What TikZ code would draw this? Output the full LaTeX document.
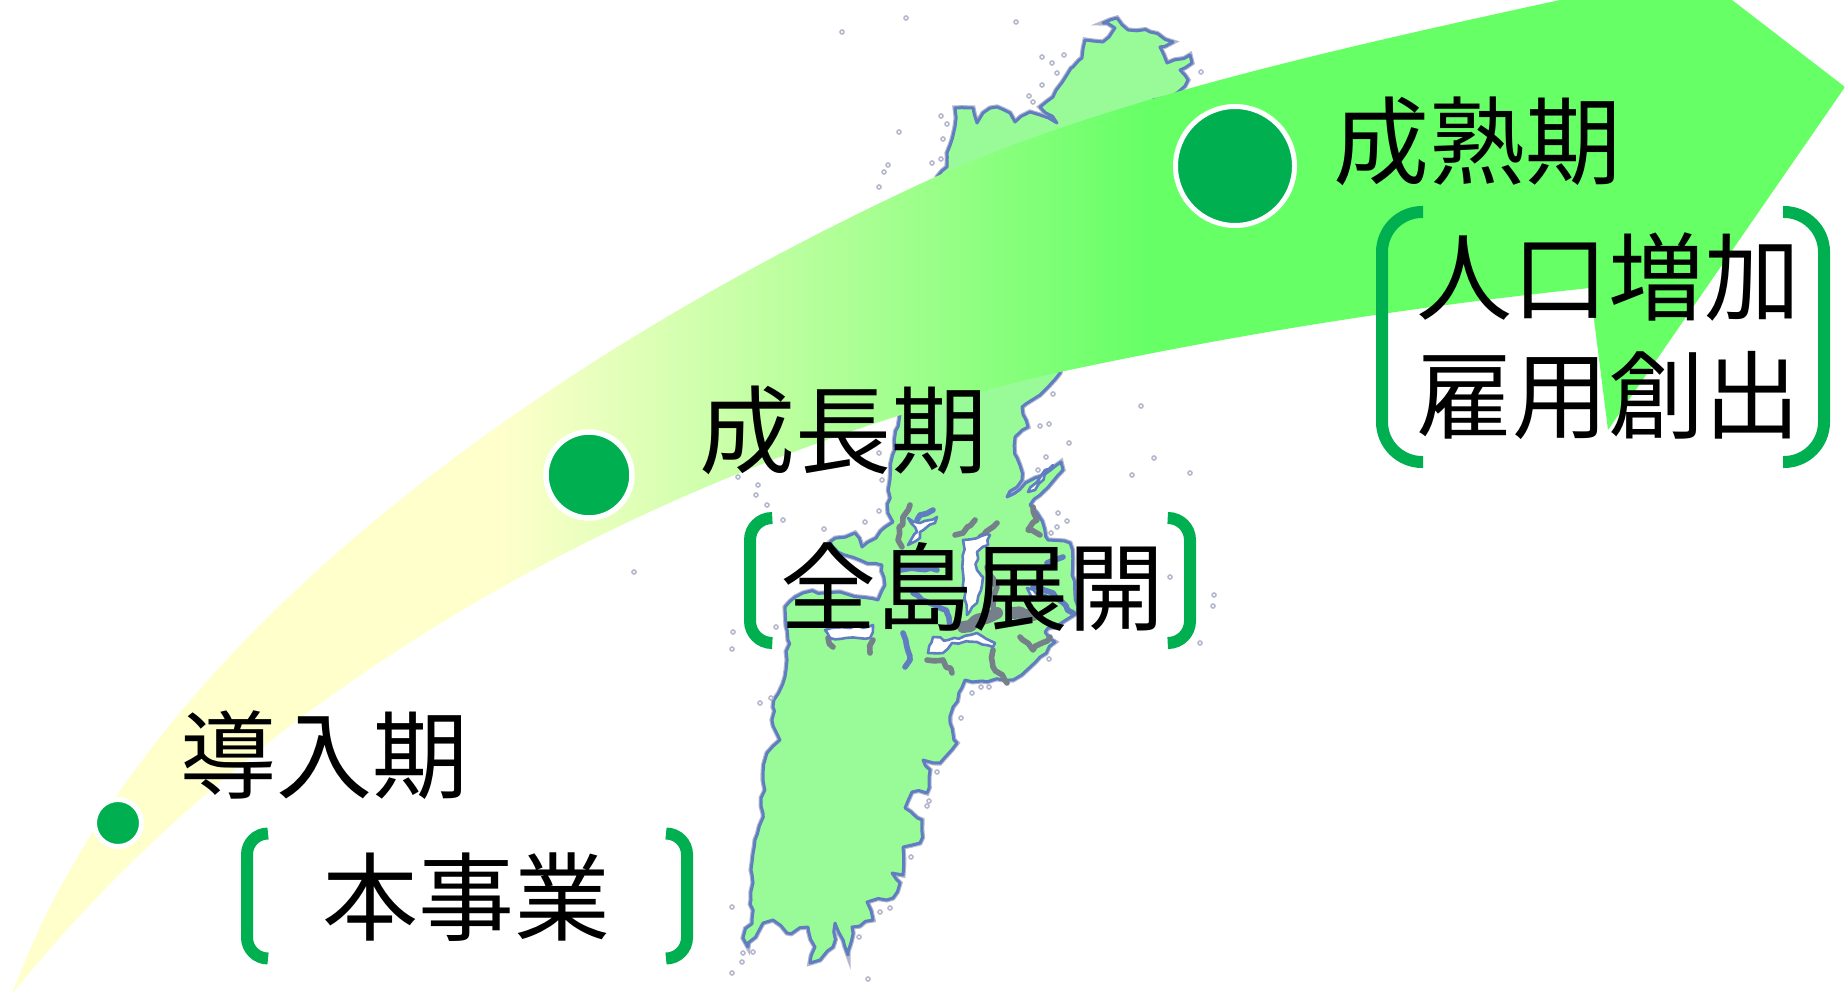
\documentclass[tikz,border=0pt]{standalone}
\usepackage{fontspec}
\setmainfont{Noto Sans CJK JP}
\usetikzlibrary{decorations.pathmorphing}
\definecolor{bandstart}{HTML}{FFFFCC}
\definecolor{bandend}{HTML}{66FF66}
\definecolor{markgreen}{HTML}{00B050}
\definecolor{landgreen}{HTML}{98FB98}
\definecolor{coastblue}{HTML}{5F7DC0}
\definecolor{coastdark}{HTML}{75808A}
\definecolor{islegray}{HTML}{B4B8CC}
\pgfdeclarehorizontalshading{bandfade}{100bp}{color(0bp)=(bandstart); color(38.3bp)=(bandstart); color(56bp)=(bandend); color(100bp)=(bandend)}
\begin{document}
\begin{tikzpicture}[
            x=0.5pt, y=-0.5pt,
            land/.style={draw=coastblue, fill=landgreen, line width=1.5pt, line join=round, preaction={draw=islegray, line width=2.6pt}, decorate, decoration={random steps, segment length=4pt, amplitude=1pt}},
            inlet/.style={draw=coastblue, fill=white, line width=1.3pt, line join=round, decorate, decoration={random steps, segment length=3pt, amplitude=0.8pt}},
            finger/.style={draw=coastdark, line width=2.8pt, line cap=round, line join=round, decorate, decoration={random steps, segment length=3pt, amplitude=1pt}},
            fingerb/.style={finger, draw=coastblue},
            dot/.style={circle, fill=markgreen, draw=white, inner sep=0pt},
            phase/.style={font=\fontsize{48}{59}\selectfont, text=black, align=center, inner sep=0pt},
            bracket/.style={draw=markgreen, line width=6pt}
        ]
            \useasboundingbox (0,0) rectangle (1845,994);
            \pgfmathsetseed{7}

            % island
            \path[land] (1103,23) -- (1117,18) -- (1128,30) -- (1150,32) -- (1173,42) -- (1160,47) -- (1167,63) -- (1190,55) -- (1192,63) -- (1180,70) -- (1188,80) -- (1177,93) -- (1153,100) -- (1100,200) -- (1060,373) -- (1048,387) -- (1040,395) -- (1022,407) -- (1028,427) -- (1015,437) -- (1017,458) -- (1022,480) -- (1007,497) -- (1035,478) -- (1061,462) -- (1063,470) -- (1040,495) -- (1030,505) -- (1037,513) -- (1048,540) -- (1070,543) -- (1077,613) -- (1045,632) -- (1055,642) -- (1040,657) -- (1013,680) -- (965,680) -- (953,707) -- (950,723) -- (957,743) -- (940,763) -- (923,760) -- (930,770) -- (927,793) -- (912,792) -- (905,808) -- (922,820) -- (920,843) -- (903,847) -- (903,875) -- (892,873) -- (900,883) -- (893,898) -- (867,902) -- (873,920) -- (852,927) -- (848,955) -- (835,923) -- (833,947) -- (820,960) -- (810,963) -- (815,947) -- (808,927) -- (787,933) -- (773,920) -- (763,923) -- (748,947) -- (743,938) -- (752,920) -- (751,900) -- (752,863) -- (755,840) -- (763,813) -- (763,780) -- (767,753) -- (780,740) -- (772,720) -- (773,707) -- (785,677) -- (788,640) -- (785,607) -- (803,593) -- (840,592) -- (878,600) -- (885,585) -- (882,565) -- (860,560) -- (838,552) -- (830,542) -- (855,533) -- (862,547) -- (893,522) -- (888,513) -- (890,480) -- (900,400) -- (930,200) -- (937,177) -- (947,167) -- (947,153) -- (955,127) -- (955,108) -- (973,108) -- (977,123) -- (983,113) -- (997,107) -- (1010,113) -- (1015,122) -- (1030,112) -- (1040,115) -- (1057,123) -- (1040,107) -- (1053,97) -- (1073,67) -- (1082,58) -- (1085,40) -- (1103,42) -- (1115,28) -- cycle;
            % dark coast in the middle of the island
            \path[finger] (910,505) -- (903,517) -- (898,540) -- (902,547);
            \path[fingerb] (933,510) -- (920,515) -- (917,520);
            \path[finger] (975,520) -- (963,533) -- (955,535);
            \path[finger] (997,523) -- (980,537);
            \path[finger] (1033,507) -- (1037,520) -- (1028,530) -- (1040,535);
            \path[fingerb] (903,633) -- (910,660) -- (905,667);
            \path[finger] (927,660) -- (943,660) -- (952,673);
            \path[finger] (870,653) -- (873,640);
            \path[finger] (833,647) -- (828,638);
            \path[finger] (993,650) -- (993,667) -- (1007,683);
            \path[finger] (1020,637) -- (1033,650) -- (1050,637);
            \path[finger] (987,567) -- (997,587) -- (993,607);
            \path[fingerb] (1033,587) -- (1053,593) -- (1073,613);
            \path[fingerb] (900,570) -- (937,570);
            \path[fingerb] (913,593) -- (947,613) -- (950,627);
            \path[fingerb] (1063,557) -- (1047,563);
            \path[finger, line width=6pt] (963,627) -- (997,613);
            \path[finger, line width=6pt] (1013,613) -- (1033,615);
            \path[inlet] (908,518) -- (920,523) -- (937,517) -- (935,523) -- (920,532) -- (920,538) -- (908,545) -- (917,532) -- cycle;
            \path[inlet] (963,540) -- (990,535) -- (988,545) -- (977,552) -- (977,570) -- (983,577) -- (977,603) -- (967,615) -- (963,573) -- cycle;
            \path[inlet] (825,630) -- (850,628) -- (873,625) -- (870,638) -- (830,638) -- cycle;
            \path[inlet] (948,640) -- (977,633) -- (995,643) -- (993,647) -- (977,642) -- (952,643) -- (943,653) -- (928,653) -- (933,637) -- cycle;
            \path[inlet] (1045,470) -- (1053,465) -- (1035,490) -- (1028,492) -- cycle;
            \path[inlet] (1027,588) -- (1047,597) -- (1033,600) -- cycle;
            \foreach \px/\py in {906/18, 842/32, 1016/22, 1042/57, 1064/55, 1052/63, 1057/73, 1042/85, 1201/72, 1029/96, 1033/102, 941/116, 947/124, 899/132, 943/139, 941/159, 932/163, 888/165, 884/172, 879/187, 1053/394, 1141/406, 1049/424, 1040/426, 1069/443, 1046/457, 1154/458, 1190/473, 1132/475, 1038/470, 882/480, 879/453, 738/477, 758/485, 756/495, 767/505, 783/520, 865/522, 824/529, 879/511, 1058/513, 1067/521, 1051/533, 1057/527, 1170/577, 1214/595, 1213/606, 1200/643, 1049/659, 733/632, 732/649, 776/627, 981/687, 989/687, 972/693, 961/718, 771/698, 760/703, 937/772, 929/801, 927/806, 911/857, 890/908, 880/912, 732/907, 859/937, 753/952, 743/953, 742/962, 732/973, 868/979, 634/572} {
                \path[draw=islegray, line width=0.8pt] (\px,\py) circle (2);
            }

            % band with its head
            \shade[shading=bandfade] (12,994) .. controls (150,620) and (580,340) .. (933,178) .. controls (1100,102) and (1330,50) .. (1560,0) -- (1732,0) -- (1845,87) -- (1608,430) -- (1590,288) .. controls (1380,310) and (1210,340) .. (1060,372) .. controls (800,430) and (330,600) .. cycle;

            \node[dot, minimum size=23.5pt, line width=2.5pt] (early) at (118,823) {};
            \node[dot, minimum size=43pt, line width=2.75pt] (growth) at (589,475) {};
            \node[dot, minimum size=59.5pt, line width=2.5pt] (mature) at (1235,166) {};

            \node[phase] (n1) at (324,755) {導入期};
            \node[phase] (m1) at (466,897) {本事業};
            \node[phase] (n2) at (843,430) {成長期};
            \node[phase] (m2) at (972,587) {全島展開};
            \node[phase] (n3) at (1477,141) {成熟期};
            \node[phase] (m3) at (1608,336) {人口増加\\雇用創出};

            \draw[bracket, rounded corners=10.5pt] (268,833.5) -- (247,833.5) -- (247,958.5) -- (268,958.5);
            \draw[bracket, rounded corners=10.5pt] (666,833.5) -- (687,833.5) -- (687,958.5) -- (666,958.5);
            \draw[bracket, rounded corners=11pt] (771,518) -- (750,518) -- (750,643) -- (771,643);
            \draw[bracket, rounded corners=11pt] (1169,518) -- (1190,518) -- (1190,643) -- (1169,643);
            \draw[bracket, rounded corners=20pt] (1423,212) -- (1382,212) -- (1382,462) -- (1423,462);
            \draw[bracket, rounded corners=20pt] (1783,212) -- (1824,212) -- (1824,462) -- (1783,462);
        \end{tikzpicture}
\end{document}
